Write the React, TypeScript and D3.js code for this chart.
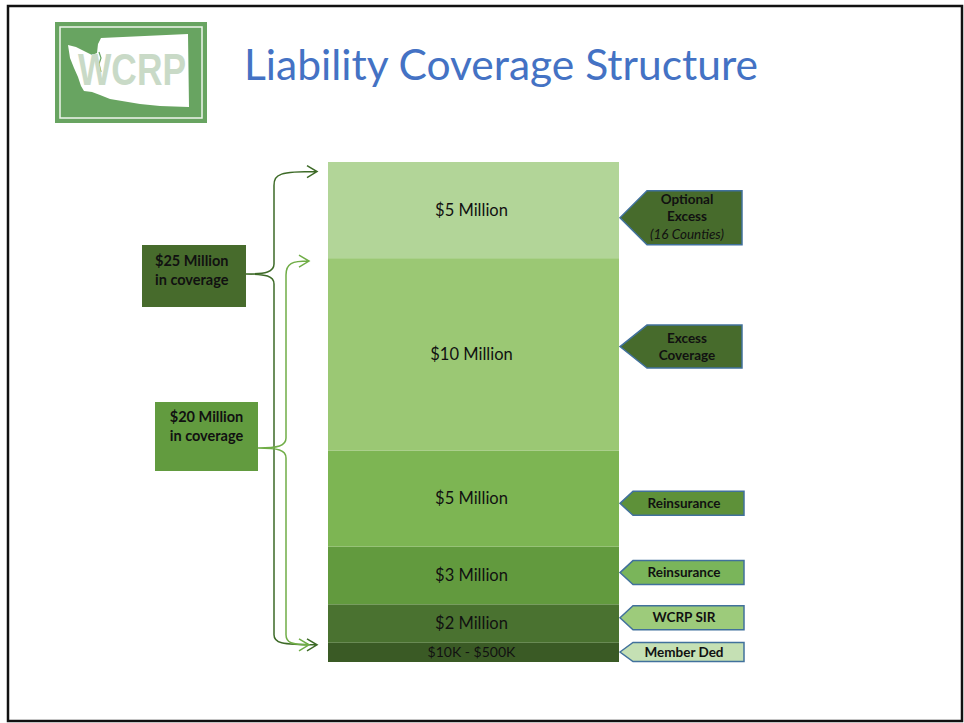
import React, { useMemo } from 'react';
import * as d3 from 'd3';

// layers, bottom to top. deductible band is drawn at a nominal 1M height
const layerLabels = ['$10K - $500K', '$2 Million', '$3 Million', '$5 Million', '$10 Million', '$5 Million'];
const layerMillions = [1, 2, 3, 5, 10, 5];
const layerColors = ['#3a5a25', '#4a7230', '#629a3e', '#7db553', '#9bc874', '#b2d598'];

// right-hand callouts (position in millions on the stack scale)
const calloutLines = [
    ['Optional', 'Excess', '(16 Counties)'],
    ['Excess', 'Coverage'],
    ['Reinsurance'],
    ['Reinsurance'],
    ['WCRP SIR'],
    ['Member Ded'],
];
const calloutAt = [23.1, 16.4, 8.25, 4.65, 2.3, 0.52];
const calloutFills = ['#476b2c', '#476b2c', '#5e9139', '#7ab55a', '#9dcb7b', '#c5e0b4'];

// left-hand brace boxes
const braceLabels = [['$25 Million', 'in coverage'], ['$20 Million', 'in coverage']];
const braceFrom = [1, 1];
const braceTo = [25.5, 20.85];
const braceColors = ['#3d6a27', '#70ad47'];
const braceBoxFills = ['#476b2c', '#629b3f'];

const W = 964;
const H = 723;
const FONT = "Lato, 'Open Sans', sans-serif";

function App() {
    const total = d3.sum(layerMillions);
    const yScale = useMemo(() => d3.scaleLinear().domain([0, total]).range([662, 162]), [total]);

    const stackX = 328;
    const stackW = 291;

    const layers = useMemo(() => {
        let acc = 0;
        return layerMillions.map((v, i) => {
            const lo = acc;
            acc += v;
            return { label: layerLabels[i], lo, hi: acc, color: layerColors[i] };
        });
    }, []);

    const calloutShape = (i: number) => {
        const big = calloutLines[i].length > 1;
        const cy = yScale(calloutAt[i]);
        const h = i === 0 ? 54 : big ? 43 : i === 5 ? 19 : 24;
        const tipX = 620;
        const bodyX = big ? 647 : 633;
        const right = big ? 742 : 744;
        const p = d3.path();
        p.moveTo(tipX, cy);
        p.lineTo(bodyX, cy - h / 2);
        p.lineTo(right, cy - h / 2);
        p.lineTo(right, cy + h / 2);
        p.lineTo(bodyX, cy + h / 2);
        p.closePath();
        return { d: p.toString(), cy, cx: big ? 687 : 684, h };
    };

    const braceGeom = [
        { x: 274, tip: 317, boxRight: 246, box: [142, 245, 104, 62], midY: 274 },
        { x: 286, tip: 309, boxRight: 258, box: [155, 402, 103, 69], midY: 448 },
    ];

    const bracePath = (i: number) => {
        const g = braceGeom[i];
        const top = yScale(braceTo[i]);
        const bot = yScale(braceFrom[i]) + 2;
        const p = d3.path();
        p.moveTo(g.tip, top);
        p.bezierCurveTo(g.x + 6, top, g.x, top + 2, g.x, top + 14);
        p.lineTo(g.x, g.midY - 10);
        p.bezierCurveTo(g.x, g.midY - 2, g.x - 8, g.midY, g.boxRight, g.midY);
        p.moveTo(g.boxRight, g.midY);
        p.bezierCurveTo(g.x - 8, g.midY, g.x, g.midY + 2, g.x, g.midY + 10);
        p.lineTo(g.x, bot - 10);
        p.bezierCurveTo(g.x, bot - 2, g.x + 6, bot, g.tip, bot);
        // open arrow heads
        [top, bot].forEach(yy => {
            p.moveTo(g.tip - 10, yy - 6);
            p.lineTo(g.tip, yy);
            p.lineTo(g.tip - 10, yy + 6);
        });
        return p.toString();
    };

    return (
        <div style={{ position: 'absolute', left: 0, top: 0 }}>
            <svg width={W} height={H} style={{ display: 'block', fontFamily: FONT }}>
                <rect x={0} y={0} width={W} height={H} fill="#ffffff" />
                <rect x={8} y={6} width={954} height={715} fill="none" stroke="#111" strokeWidth={2.5} />

                {/* LOGO */}
                <g>
                    <rect x={55} y={22} width={152} height={101} fill="#68a461" />
                    <rect x={60} y={27} width={142} height={91} fill="none" stroke="#eef5ec" strokeWidth={1.5} />
                    <path d="M68,45 L76,47 L84,51 L92,55 L97,53 L98,44 L101,38 L188,34 L189,107 L160,106 L140,104 L122,101 L110,99 L100,95 L92,92 L84,91 L81,86 L78,77 L74,68 L70,58 Z" fill="#ffffff" />
                    <path d="M99,52 L101,58 L99,64 L101,72" stroke="#68a461" strokeWidth={1.2} fill="none" />
                    <text x={78} y={85} fontFamily="'Liberation Sans', sans-serif" fontWeight="bold" fontSize={45} fill="#c9dac7" textLength={108} lengthAdjust="spacingAndGlyphs">WCRP</text>
                </g>

                {/* TITLE */}
                <text x={244} y={80} fontSize={43} fontWeight={400} fill="#4472c4" textLength={514} lengthAdjust="spacingAndGlyphs">Liability Coverage Structure</text>

                {/* STACK */}
                {layers.map((l, i) => (
                    <g key={i}>
                        <rect x={stackX} y={yScale(l.hi)} width={stackW} height={yScale(l.lo) - yScale(l.hi)} fill={l.color} />
                        <text x={stackX + stackW / 2 - 2} y={(yScale(l.lo) + yScale(l.hi)) / 2} dy="0.35em" textAnchor="middle" fontSize={i === 0 ? 14 : 16.5} fill="#111">{l.label}</text>
                    </g>
                ))}

                {/* CALLOUTS */}
                {calloutLines.map((lines, i) => {
                    const s = calloutShape(i);
                    const lh = 17.5;
                    const startY = s.cy - ((lines.length - 1) * lh) / 2 + (i === 0 ? -1 : 0);
                    return (
                        <g key={i}>
                            <path d={s.d} fill={calloutFills[i]} stroke="#41719c" strokeWidth={1.5} />
                            {lines.map((t, j) => (
                                <text key={j} x={s.cx} y={startY + j * lh} dy="0.35em" textAnchor="middle"
                                    fontSize={13.5} fontWeight={t.startsWith('(') ? 400 : 700}
                                    fontStyle={t.startsWith('(') ? 'italic' : 'normal'} fill="#111">{t}</text>
                            ))}
                        </g>
                    );
                })}

                {/* BRACES */}
                {braceLabels.map((lines, i) => {
                    const g = braceGeom[i];
                    const [bx, by, bw, bh] = g.box;
                    return (
                        <g key={i}>
                            <rect x={bx} y={by} width={bw} height={bh} fill={braceBoxFills[i]} />
                            {lines.map((t, j) => (
                                <text key={j} x={i === 0 ? bx + 13 : bx + bw / 2} y={by + (i === 0 ? 16 : 15) + j * 19} dy="0.35em"
                                    textAnchor={i === 0 ? 'start' : 'middle'} fontSize={14.5} fontWeight={700} fill="#111">{t}</text>
                            ))}
                            <path d={bracePath(i)} fill="none" stroke={braceColors[i]} strokeWidth={1.5} />
                        </g>
                    );
                })}
            </svg>
        </div>
    );
}

export default App;
